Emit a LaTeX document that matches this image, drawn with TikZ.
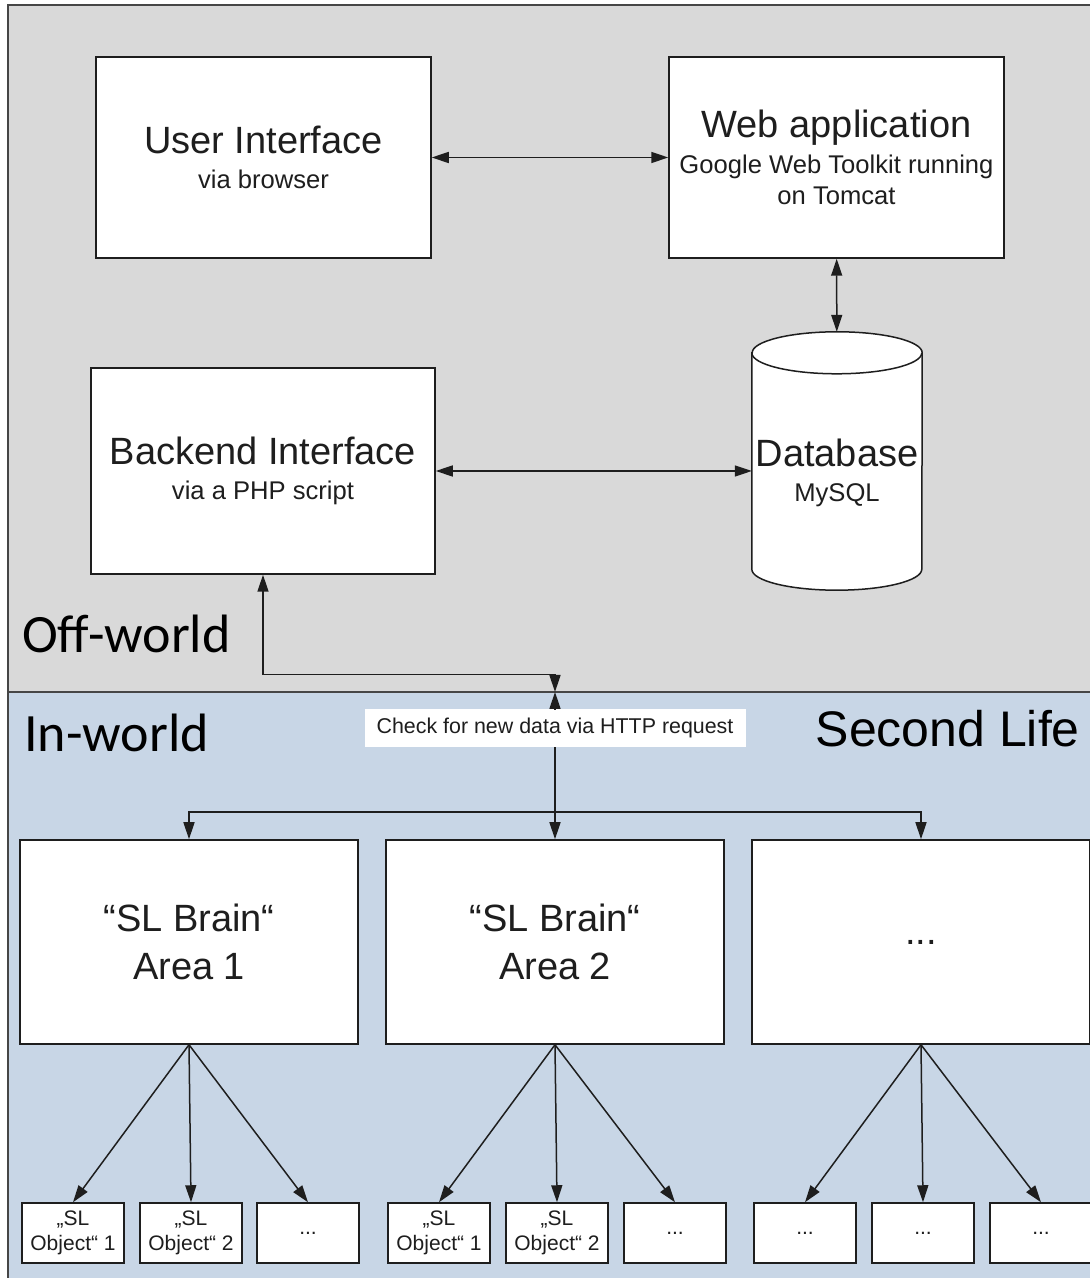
\documentclass[tikz,border=0pt]{standalone}
\usepackage{fontspec}
\setmainfont{Liberation Sans}
\newfontfamily\calfont{Carlito}
\usetikzlibrary{arrows.meta,positioning,calc}
\definecolor{offgray}{RGB}{217,217,217}
\definecolor{inblue}{RGB}{200,214,230}
\definecolor{frame}{RGB}{70,70,70}
\definecolor{ink}{RGB}{30,30,30}
\newcommand{\bigtxt}{\fontsize{38}{48}\selectfont}
\newcommand{\subtxt}{\fontsize{25.6}{31}\selectfont}
\newcommand{\smalltxt}{\fontsize{21}{25}\selectfont}
\newcommand{\obj}[1]{„SL\\Object“ #1}
\tikzset{
  >={Triangle[length=17pt,width=11pt]},
  region/.style={draw=frame,line width=2pt,fill=#1},
  box/.style={draw=ink,line width=1.5pt,fill=white,align=center,inner sep=0pt,text=ink},
  outline/.style={draw=ink,line width=1.5pt},
  flow/.style={<->,line width=1.5pt,draw=ink},
  down/.style={->,line width=1.5pt,draw=ink},
  world/.style={font=\calfont\fontsize{54}{60}\selectfont,inner sep=0pt},
  brain/.style={box,minimum width=338,minimum height=204,font=\bigtxt},
  object/.style={box,minimum width=102,minimum height=60,font=\smalltxt},
}

\begin{document}
\begin{tikzpicture}[x=1pt,y=1pt]
  \useasboundingbox (0,0) rectangle (1090,1278);
  % the two worlds
  \draw[region=offgray] (8,1273) rectangle (1110,586);
  \draw[region=inblue] (8,586) rectangle (1110,-10);
  \node[world,anchor=base west] (offw) at (22,625) {Off-world};
  \node[world,anchor=base west] (inw) at (24,526) {In-world};
  \node[inner sep=0pt,anchor=base east,font=\fontsize{50}{56}\selectfont] (sl) at (1080,531) {Second Life};

  % off-world
  \node[box,font=\subtxt,minimum width=335,minimum height=201] (ui) at (263.5,1120.5) {\bigtxt User Interface\\[4.5pt]via browser};
  \node[box,font=\subtxt,minimum width=335,minimum height=201] (web) at (836.5,1120.5) {\bigtxt Web application\\[4.5pt]Google Web Toolkit running\\on Tomcat};
  \node[box,font=\subtxt,minimum width=344,minimum height=206] (be) at (263,807) {\bigtxt Backend Interface\\[4.5pt]via a PHP script};
  \node[inner sep=0pt,minimum width=170,minimum height=258] (db) at (837,817) {};
  \draw[outline,fill=white] ([yshift=-21pt]db.north west) -- ([yshift=21pt]db.south west)
    arc[start angle=180,end angle=360,x radius=85,y radius=21]
    -- ([yshift=-21pt]db.north east)
    arc[start angle=0,end angle=180,x radius=85,y radius=21] -- cycle;
  \draw[outline] ([yshift=-21pt]db.north west) arc[start angle=180,end angle=360,x radius=85,y radius=21];
  \node[align=center,inner sep=0pt,text=ink,font=\subtxt] (dbtxt) at ([yshift=-12pt]db.center) {\bigtxt Database\\[4.5pt]MySQL};

  \draw[flow] (ui) -- (web);
  \draw[flow] (web) -- (db);
  \draw[flow] (be.east) -- (be.east -| db.west);

  % in-world
  \node[fill=white,inner sep=0pt,minimum width=381,minimum height=38,font=\fontsize{21.4}{24}\selectfont,text=ink] (http) at (555,550) {Check for new data via HTTP request};
  \coordinate (gate) at (555,586);
  \draw[flow] (be.south) -- ++(0,-100) -| (gate);
  \draw[down] (http) -- (gate);

  \foreach \x/\t [count=\i] in {189/{“SL Brain“\\Area 1},555/{“SL Brain“\\Area 2},921/{...}}
    \node[brain] (b\i) at (\x,336) {\t};
  \coordinate (split) at (http.south |- 0,466);
  \draw[down] (http) -- (b2);
  \draw[down] (split) -| (b1.north);
  \draw[down] (split) -| (b3.north);

  \foreach \x/\t [count=\i] in {73/{\obj{1}},191/{\obj{2}},308/{...},439/{\obj{1}},557/{\obj{2}},675/{...},805/{...},923/{...},1041/{...}}{
    \pgfmathtruncatemacro{\p}{ceil(\i/3)}
    \node[object] (o\i) at (\x,45) {\t};
    \draw[down] (b\p.south) -- (o\i.north);
  }
\end{tikzpicture}
\end{document}
